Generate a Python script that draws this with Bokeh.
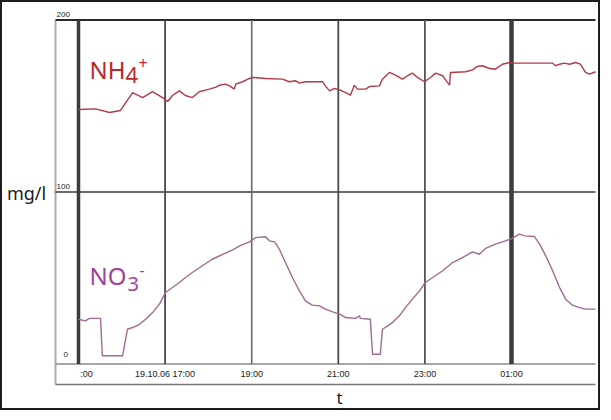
from bokeh.plotting import figure
from bokeh.models import Range1d
from bokeh.embed import file_html
from bokeh.resources import INLINE
from bokeh.core.properties import value

# ---- data (hours after 19.10.06 15:00, mg/l) ----
nh4_hours = [0.00, 0.39, 0.72, 0.97, 1.25, 1.48, 1.71, 1.94, 2.06, 2.17, 2.33, 2.47, 2.63,
             2.79, 3.02, 3.16, 3.26, 3.39, 3.49, 3.60, 3.63, 3.79, 3.95, 4.02, 4.32, 4.71,
             4.87, 5.01, 5.10, 5.24, 5.64, 5.70, 5.80, 5.91, 6.03, 6.17, 6.28, 6.37, 6.44,
             6.63, 6.72, 6.95, 7.02, 7.18, 7.32, 7.48, 7.60, 7.71, 7.83, 7.99, 8.13, 8.25,
             8.41, 8.52, 8.57, 8.59, 8.94, 9.10, 9.21, 9.33, 9.49, 9.63, 9.79, 9.95, 10.07,
             10.95, 11.02, 11.11, 11.22, 11.34, 11.48, 11.59, 11.71, 11.80, 11.94]
nh4_values = [148.0, 148.3, 146.2, 147.4, 157.8, 154.9, 158.3, 154.9, 152.6, 156.1, 158.8,
              156.1, 154.9, 158.3, 159.8, 160.8, 162.1, 162.7, 161.7, 159.8, 162.7, 164.1,
              166.0, 166.6, 166.0, 165.6, 164.1, 164.7, 163.3, 164.1, 164.1, 161.7, 158.8,
              160.2, 159.4, 157.8, 156.3, 162.1, 159.8, 159.8, 161.3, 161.7, 165.6, 169.5,
              167.9, 165.6, 167.6, 169.1, 166.6, 164.1, 166.6, 169.1, 167.6, 163.7, 162.1,
              169.5, 169.9, 171.0, 173.0, 173.4, 171.8, 171.4, 174.3, 175.3, 174.9, 174.9,
              173.4, 174.3, 174.9, 174.3, 175.3, 174.3, 169.5, 168.5, 169.9]

no3_hours = [0.00, 0.16, 0.25, 0.51, 0.55, 0.62, 1.02, 1.06, 1.13, 1.25, 1.41, 1.55, 1.71,
             1.87, 2.01, 2.17, 2.33, 2.47, 2.63, 2.86, 3.09, 3.33, 3.56, 3.72, 3.95, 4.09,
             4.32, 4.41, 4.53, 4.64, 4.78, 4.94, 5.10, 5.24, 5.40, 5.57, 5.70, 5.87, 6.03,
             6.17, 6.40, 6.49, 6.51, 6.74, 6.79, 6.97, 7.02, 7.14, 7.25, 7.41, 7.55, 7.71,
             7.88, 8.01, 8.18, 8.41, 8.64, 8.87, 9.10, 9.26, 9.40, 9.63, 9.86, 10.02, 10.18,
             10.30, 10.53, 10.65, 10.79, 10.95, 11.11, 11.25, 11.41, 11.57, 11.71, 11.94]
no3_values = [26.0, 25.1, 26.5, 26.5, 4.8, 4.8, 4.8, 10.6, 20.2, 21.2, 23.1, 26.0, 29.9,
              34.8, 41.6, 44.5, 47.4, 50.3, 53.2, 57.1, 60.9, 63.8, 66.4, 68.7, 71.0, 73.5,
              74.0, 71.6, 71.0, 66.7, 59.0, 50.3, 42.6, 36.7, 34.2, 33.8, 31.9, 30.3, 29.0,
              27.0, 26.5, 28.0, 26.5, 26.0, 5.7, 5.7, 20.2, 22.2, 24.1, 28.0, 32.8, 37.7,
              42.6, 47.4, 50.3, 54.2, 59.0, 61.9, 65.2, 63.8, 67.2, 69.7, 71.6, 73.0, 75.5,
              74.5, 74.1, 69.7, 62.9, 54.2, 44.5, 37.7, 34.2, 32.8, 31.9, 31.9]

tick_hours = [0, 2, 4, 6, 8, 10]
tick_labels = [":00", "19.10.06 17:00", "19:00", "21:00", "23:00", "01:00"]
y_tick_labels = ["0", "100", "200"]

# ---- layout (page pixels -> data) ----
X0_PX, PX_PER_H = 86.0, 43.3      # page x of 15:00, pixels per hour
Y0_PX, PX_PER_V = 371.5, 1.72     # page y of 0 mg/l, pixels per mg/l
W, H = 600, 410
def hx(px):  # page x -> hours
    return (px - X0_PX) / PX_PER_H
def vy(py):  # page y -> mg/l
    return (Y0_PX - py) / PX_PER_V

p = figure(width=W, height=H, output_backend="svg", toolbar_location=None,
           x_range=Range1d(hx(8), hx(8 + W)), y_range=Range1d(vy(8 + H), vy(8)),
           min_border=0)
p.xaxis.visible = False
p.yaxis.visible = False
p.grid.visible = False
p.background_fill_color = "white"
p.outline_line_color = "#1e1e1e"
p.outline_line_width = 3

left, right = hx(63), hx(603)
bottom_box = vy(392)

# box: left grey line, bottom row lines, horizontal reference lines
p.segment(x0=[left], y0=[bottom_box], x1=[left], y1=[200], line_color="#b0aaa8", line_width=2)
p.segment(x0=[left], y0=[bottom_box], x1=[right], y1=[bottom_box], line_color="#7a7a7a", line_width=1.5)
p.segment(x0=[left], y0=[0], x1=[right], y1=[0], line_color="#8a8a8a", line_width=1.5)
p.segment(x0=[left], y0=[100], x1=[right], y1=[100], line_color="#3a3a3a", line_width=1.3)
p.segment(x0=[left], y0=[200], x1=[right], y1=[200], line_color="#2a2a2a", line_width=2)

# vertical grid lines
widths = [3.5, 1.8, 1.6, 1.8, 1.8, 4.5]
colors = ["#3c3c3c", "#4a4a4a", "#6a6a6a", "#4a4a4a", "#555555", "#3c3c3c"]
p.segment(x0=tick_hours, y0=[0] * 6, x1=tick_hours, y1=[200] * 6,
          line_color=colors, line_width=widths)

# data lines
p.line(nh4_hours, nh4_values, line_color="#b03a48", line_width=1.4)
p.line(no3_hours, no3_values, line_color="#a06a92", line_width=1.4)

# x tick labels (inside the label row)
row_y = vy(381.5)
tick_x = [hx(94)] + tick_hours[1:]
p.text(x=tick_x, y=[row_y] * 6, text=tick_labels, text_align="center",
       text_baseline="middle", text_font=value("Liberation Sans"),
       text_font_size="9px", text_color="#222222")

# y tick labels
p.text(x=[hx(71), hx(64), hx(64)], y=[vy(362), vy(194), vy(22)], text=y_tick_labels,
       text_align="left", text_baseline="middle", text_font=value("Liberation Sans"),
       text_font_size="8px", text_color="#222222")

# species labels: NH4+ and NO3-
red, purple = "#c0272d", "#a0449a"
p.text(x=[hx(97)], y=[vy(77)], text=["NH"], text_align="left", text_baseline="alphabetic",
       text_font=value("Noto Sans"), text_font_size="24px", text_color=red)
p.text(x=[hx(133)], y=[vy(82)], text=["4"], text_align="left", text_baseline="alphabetic",
       text_font=value("Noto Sans"), text_font_size="22px", text_color=red)
p.text(x=[hx(146)], y=[vy(70)], text=["+"], text_align="left", text_baseline="alphabetic",
       text_font=value("Noto Sans"), text_font_size="16px", text_color=red)

p.text(x=[hx(97)], y=[vy(283)], text=["NO"], text_align="left", text_baseline="alphabetic",
       text_font=value("Noto Sans"), text_font_size="24px", text_color=purple)
p.text(x=[hx(135)], y=[vy(291)], text=["3"], text_align="left", text_baseline="alphabetic",
       text_font=value("Noto Sans"), text_font_size="20px", text_color=purple)
p.text(x=[hx(147)], y=[vy(277)], text=["-"], text_align="left", text_baseline="alphabetic",
       text_font=value("Noto Sans"), text_font_size="16px", text_color=purple)

# axis titles
p.text(x=[hx(34)], y=[vy(200)], text=["mg/l"], text_align="center", text_baseline="middle",
       text_font=value("Noto Sans"), text_font_size="18px", text_color="#1a1a1a")
p.text(x=[hx(347)], y=[vy(405)], text=["t"], text_align="center", text_baseline="middle",
       text_font=value("Noto Sans"), text_font_size="17px", text_color="#1a1a1a")

open("out.html", "w").write(file_html(p, INLINE))
